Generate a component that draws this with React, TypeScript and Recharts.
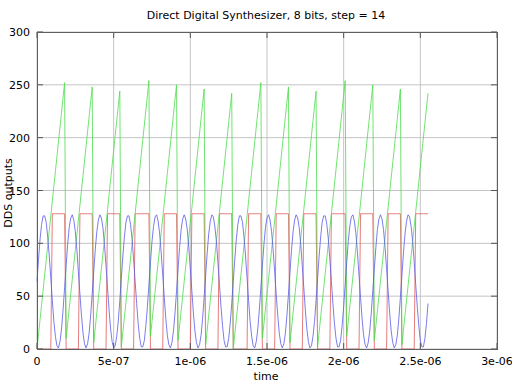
import React from 'react';
import { CartesianGrid, Line, LineChart, XAxis, YAxis } from 'recharts';

// DDS: 8-bit phase accumulator, step 14, one sample every 10 ns
const samplePeriod = 1e-8;

const phase = [
  0, 14, 28, 42, 56, 70, 84, 98, 112, 126, 140, 154, 168, 182, 196, 210, 224, 238, 252,
  10, 24, 38, 52, 66, 80, 94, 108, 122, 136, 150, 164, 178, 192, 206, 220, 234, 248,
  6, 20, 34, 48, 62, 76, 90, 104, 118, 132, 146, 160, 174, 188, 202, 216, 230, 244,
  2, 16, 30, 44, 58, 72, 86, 100, 114, 128, 142, 156, 170, 184, 198, 212, 226, 240, 254,
  12, 26, 40, 54, 68, 82, 96, 110, 124, 138, 152, 166, 180, 194, 208, 222, 236, 250,
  8, 22, 36, 50, 64, 78, 92, 106, 120, 134, 148, 162, 176, 190, 204, 218, 232, 246,
  4, 18, 32, 46, 60, 74, 88, 102, 116, 130, 144, 158, 172, 186, 200, 214, 228, 242,
  0, 14, 28, 42, 56, 70, 84, 98, 112, 126, 140, 154, 168, 182, 196, 210, 224, 238, 252,
  10, 24, 38, 52, 66, 80, 94, 108, 122, 136, 150, 164, 178, 192, 206, 220, 234, 248,
  6, 20, 34, 48, 62, 76, 90, 104, 118, 132, 146, 160, 174, 188, 202, 216, 230, 244,
  2, 16, 30, 44, 58, 72, 86, 100, 114, 128, 142, 156, 170, 184, 198, 212, 226, 240, 254,
  12, 26, 40, 54, 68, 82, 96, 110, 124, 138, 152, 166, 180, 194, 208, 222, 236, 250,
  8, 22, 36, 50, 64, 78, 92, 106, 120, 134, 148, 162, 176, 190, 204, 218, 232, 246,
  4, 18, 32, 46, 60, 74, 88, 102, 116, 130, 144, 158, 172, 186, 200, 214, 228, 242,
];

const msb = [
  0, 0, 0, 0, 0, 0, 0, 0, 0, 0, 128, 128, 128, 128, 128, 128, 128, 128, 128,
  0, 0, 0, 0, 0, 0, 0, 0, 0, 128, 128, 128, 128, 128, 128, 128, 128, 128,
  0, 0, 0, 0, 0, 0, 0, 0, 0, 128, 128, 128, 128, 128, 128, 128, 128, 128,
  0, 0, 0, 0, 0, 0, 0, 0, 0, 128, 128, 128, 128, 128, 128, 128, 128, 128, 128,
  0, 0, 0, 0, 0, 0, 0, 0, 0, 128, 128, 128, 128, 128, 128, 128, 128, 128,
  0, 0, 0, 0, 0, 0, 0, 0, 0, 128, 128, 128, 128, 128, 128, 128, 128, 128,
  0, 0, 0, 0, 0, 0, 0, 0, 0, 128, 128, 128, 128, 128, 128, 128, 128, 128,
  0, 0, 0, 0, 0, 0, 0, 0, 0, 0, 128, 128, 128, 128, 128, 128, 128, 128, 128,
  0, 0, 0, 0, 0, 0, 0, 0, 0, 128, 128, 128, 128, 128, 128, 128, 128, 128,
  0, 0, 0, 0, 0, 0, 0, 0, 0, 128, 128, 128, 128, 128, 128, 128, 128, 128,
  0, 0, 0, 0, 0, 0, 0, 0, 0, 128, 128, 128, 128, 128, 128, 128, 128, 128, 128,
  0, 0, 0, 0, 0, 0, 0, 0, 0, 128, 128, 128, 128, 128, 128, 128, 128, 128,
  0, 0, 0, 0, 0, 0, 0, 0, 0, 128, 128, 128, 128, 128, 128, 128, 128, 128,
  0, 0, 0, 0, 0, 0, 0, 0, 0, 128, 128, 128, 128, 128, 128, 128, 128, 128,
];

const sine = [
  64, 85, 104, 118, 126, 126, 120, 106, 88, 67, 46, 26, 12, 3, 1, 7, 19, 37, 58,
  79, 99, 115, 124, 127, 122, 111, 94, 73, 52, 32, 15, 5, 1, 5, 15, 32, 52,
  73, 94, 111, 122, 127, 124, 115, 99, 79, 58, 37, 19, 7, 1, 3, 12, 26, 46,
  67, 88, 106, 120, 126, 126, 118, 104, 85, 64, 43, 24, 10, 2, 2, 8, 22, 40, 61,
  82, 102, 116, 125, 127, 121, 109, 91, 70, 49, 29, 13, 4, 1, 6, 17, 34, 55,
  76, 96, 113, 123, 127, 123, 113, 96, 76, 55, 34, 17, 6, 1, 4, 13, 29, 49,
  70, 91, 109, 121, 127, 125, 116, 102, 82, 61, 40, 22, 8, 2, 2, 10, 24, 43,
  64, 85, 104, 118, 126, 126, 120, 106, 88, 67, 46, 26, 12, 3, 1, 7, 19, 37, 58,
  79, 99, 115, 124, 127, 122, 111, 94, 73, 52, 32, 15, 5, 1, 5, 15, 32, 52,
  73, 94, 111, 122, 127, 124, 115, 99, 79, 58, 37, 19, 7, 1, 3, 12, 26, 46,
  67, 88, 106, 120, 126, 126, 118, 104, 85, 64, 43, 24, 10, 2, 2, 8, 22, 40, 61,
  82, 102, 116, 125, 127, 121, 109, 91, 70, 49, 29, 13, 4, 1, 6, 17, 34, 55,
  76, 96, 113, 123, 127, 123, 113, 96, 76, 55, 34, 17, 6, 1, 4, 13, 29, 49,
  70, 91, 109, 121, 127, 125, 116, 102, 82, 61, 40, 22, 8, 2, 2, 10, 24, 43,
];

const xTicks = [0, 5e-7, 1e-6, 1.5e-6, 2e-6, 2.5e-6, 3e-6];
const xTickLabels = ['0', '5e-07', '1e-06', '1.5e-06', '2e-06', '2.5e-06', '3e-06'];
const yTicks = [0, 50, 100, 150, 200, 250, 300];

const data = phase.map((p, i) => ({ t: i * samplePeriod, phase: p, msb: msb[i], sine: sine[i] }));

const PLOT = { left: 37, right: 497, top: 32, bottom: 349 };
const font = { fontFamily: 'DejaVu Sans', fontSize: 11, fill: '#000' };
const tickColor = '#555';

function XTick({ x, payload }: any) {
  const i = xTicks.findIndex((v) => Math.abs(v - payload.value) < 1e-12);
  return (
    <g>
      <line x1={x} x2={x} y1={PLOT.bottom} y2={PLOT.bottom - 6} stroke={tickColor} />
      <line x1={x} x2={x} y1={PLOT.top} y2={PLOT.top + 6} stroke={tickColor} />
      <text x={x} y={PLOT.bottom + 16} textAnchor="middle" {...font}>{xTickLabels[i]}</text>
    </g>
  );
}

function YTick({ y, payload }: any) {
  return (
    <g>
      <line x1={PLOT.left} x2={PLOT.left + 6} y1={y} y2={y} stroke={tickColor} />
      <line x1={PLOT.right} x2={PLOT.right - 6} y1={y} y2={y} stroke={tickColor} />
      <text x={PLOT.left - 7} y={y + 4} textAnchor="end" {...font}>{payload.value}</text>
    </g>
  );
}

export default function App() {
  return (
    <div style={{ position: 'absolute', left: 0, top: 0, width: 512, height: 384, background: '#fff' }}>
      <LineChart width={512} height={384} data={data} margin={{ top: 32, right: 15, bottom: 0, left: 0 }}>
        <CartesianGrid stroke="#c4c4c4" />
        <XAxis
          dataKey="t"
          type="number"
          domain={[0, 3e-6]}
          ticks={xTicks}
          height={35}
          axisLine={false}
          tickLine={false}
          tick={<XTick />}
          interval={0}
        />
        <YAxis
          type="number"
          domain={[0, 300]}
          ticks={yTicks}
          width={37}
          axisLine={false}
          tickLine={false}
          tick={<YTick />}
          interval={0}
        />
        <Line dataKey="msb" type="linear" stroke="#e05a5a" strokeWidth={0.8} dot={false} isAnimationActive={false} />
        <Line dataKey="phase" type="linear" stroke="#4cdc4c" strokeWidth={0.8} dot={false} isAnimationActive={false} />
        <Line dataKey="sine" type="linear" stroke="#5a5ae8" strokeWidth={0.8} dot={false} isAnimationActive={false} />
      </LineChart>
      <svg width={512} height={384} style={{ position: 'absolute', left: 0, top: 0, pointerEvents: 'none' }}>
        <rect x={PLOT.left + 0.5} y={PLOT.top + 0.5} width={PLOT.right - PLOT.left} height={PLOT.bottom - PLOT.top} fill="none" stroke="#606060" />
        <text x={266} y={19} textAnchor="middle" {...font}>Direct Digital Synthesizer, 8 bits, step = 14</text>
        <text x={266} y={380} textAnchor="middle" {...font}>time</text>
        <text x={12} y={193} textAnchor="middle" transform="rotate(-90 12 193)" {...font}>DDS outputs</text>
      </svg>
    </div>
  );
}
